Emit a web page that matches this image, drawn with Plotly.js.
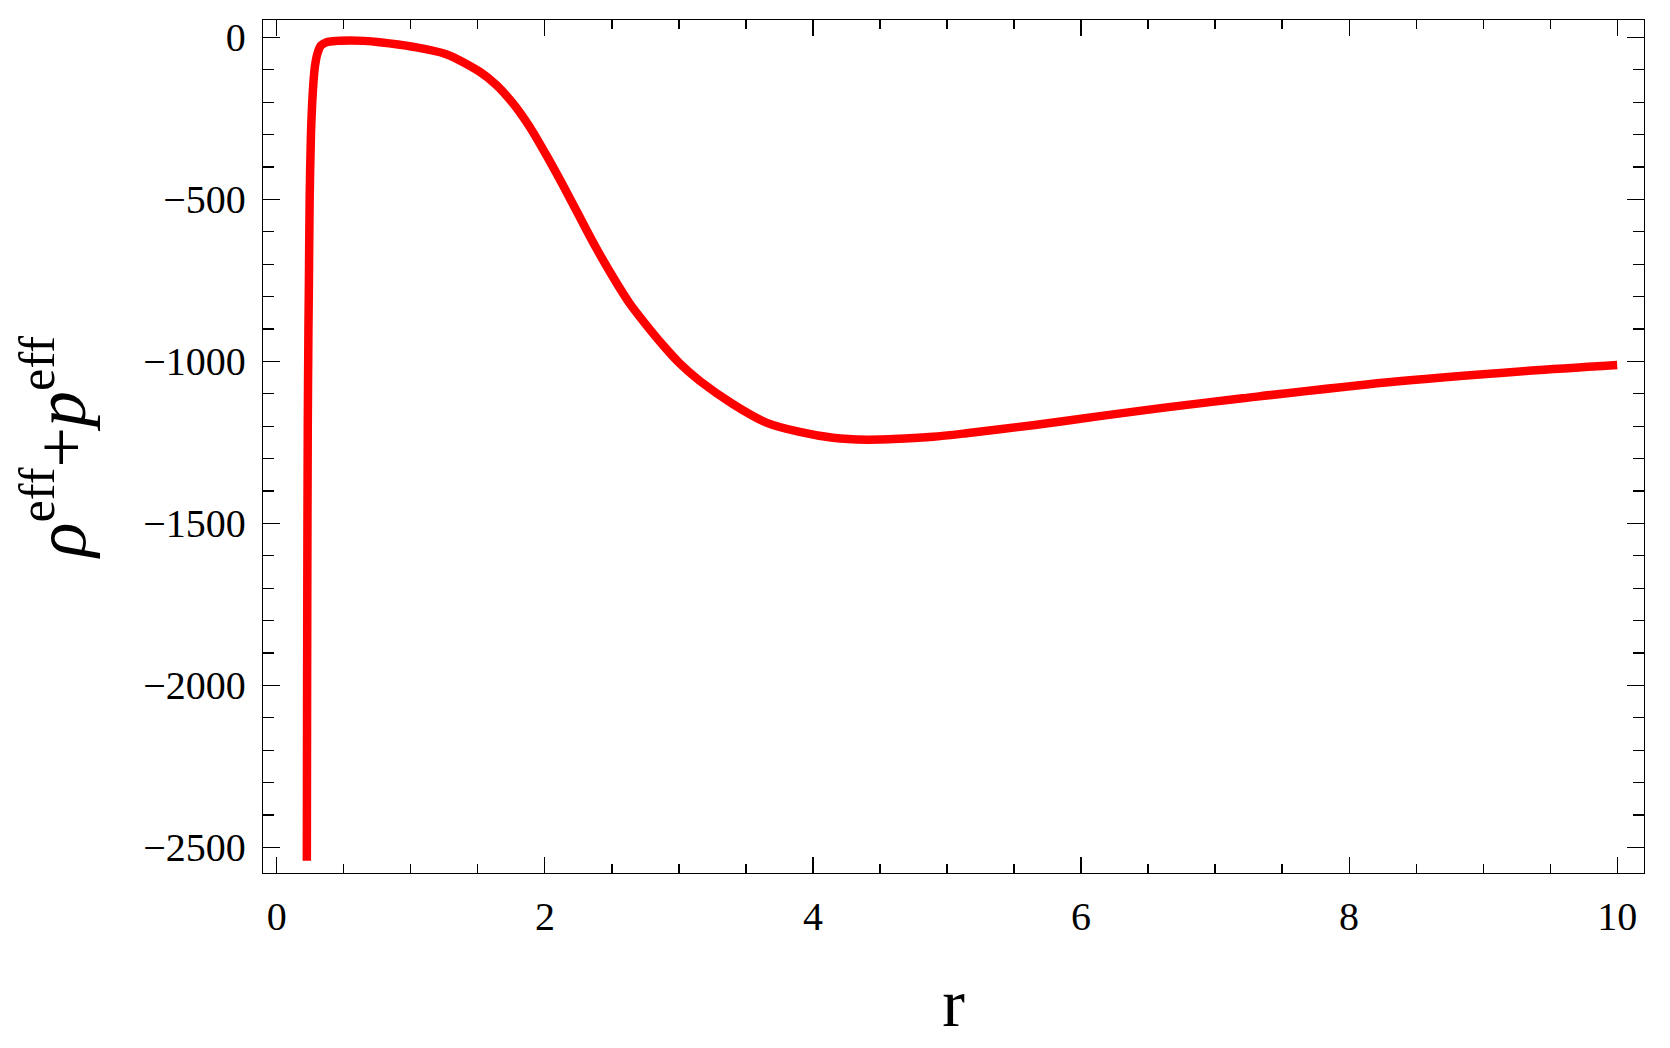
<!DOCTYPE html>
<html>
<head>
<meta charset="utf-8">
<script src="https://cdn.plot.ly/plotly-3.0.1.min.js"></script>
<style>
  html, body { margin: 0; padding: 0; background: #ffffff; }
  #chart { width: 1670px; height: 1048px; }
</style>
</head>
<body>
<div id="chart"></div>
<script>
// r values
const rValues = [
  0.224, 0.226, 0.228, 0.231, 0.236, 0.239, 0.245, 0.255, 0.268, 0.284,
  0.304, 0.33, 0.37, 0.45, 0.55, 0.65, 0.766, 1.015, 1.264, 1.513,
  1.637, 1.762, 1.886, 2.010, 2.134, 2.259, 2.384, 2.507, 2.632, 2.757,
  2.881, 3.005, 3.154, 3.403, 3.652, 3.901, 4.149, 4.398, 4.647, 4.896,
  5.145, 5.642, 6.14, 6.637, 7.206, 8.272, 9.338, 10.0
];
// rho_eff + p_eff values
const sumValues = [
  -2541, -2000, -1600, -1200, -900, -780, -502, -296, -173, -91,
  -49, -25, -15, -11, -10, -11, -15, -29, -52, -106,
  -147, -204, -276, -363, -456, -554, -651, -739, -821, -888,
  -950, -1006, -1060, -1132, -1189, -1218, -1236, -1242, -1239, -1233,
  -1222, -1197, -1169, -1142, -1114, -1065, -1029, -1011
];
const xTickVals = [0, 2, 4, 6, 8, 10];
const yTickVals = [-2500, -2000, -1500, -1000, -500, 0];

const fontFam = '"Liberation Serif", "Times New Roman", Times, serif';

const trace = {
  x: rValues,
  y: sumValues,
  type: 'scatter',
  mode: 'lines',
  line: { color: '#ff0000', width: 8.5, shape: 'spline', smoothing: 0.8 },
  hoverinfo: 'skip',
  showlegend: false
};

const layout = {
  width: 1670,
  height: 1048,
  paper_bgcolor: '#ffffff',
  plot_bgcolor: '#ffffff',
  margin: { l: 263, r: 26, t: 20, b: 175 },
  font: { family: fontFam, color: '#000000', size: 40 },
  xaxis: {
    range: [-0.103, 10.2],
    tickvals: xTickVals,
    ticktext: xTickVals.map(String),
    ticks: 'inside',
    ticklen: 16,
    tickwidth: 1.2,
    tickcolor: '#000',
    minor: { dtick: 0.5, tick0: 0, ticks: 'inside', ticklen: 9, tickwidth: 1.2, tickcolor: '#000', showgrid: false },
    showline: true,
    linecolor: '#000',
    linewidth: 1.2,
    mirror: 'allticks',
    showgrid: false,
    zeroline: false,
    tickfont: { family: fontFam, size: 40, color: '#000' },
    ticklabelstandoff: 8,
    title: { text: 'r', font: { family: fontFam, size: 68, color: '#000' }, standoff: 40 }
  },
  yaxis: {
    range: [-2579, 53.4],
    tickvals: yTickVals,
    ticktext: yTickVals.map(v => v < 0 ? '\u2212' + Math.abs(v) : String(v)),
    ticks: 'inside',
    ticklen: 17,
    tickwidth: 1.2,
    tickcolor: '#000',
    minor: { dtick: 100, tick0: 0, ticks: 'inside', ticklen: 11, tickwidth: 1.2, tickcolor: '#000', showgrid: false },
    showline: true,
    linecolor: '#000',
    linewidth: 1.2,
    mirror: 'allticks',
    showgrid: false,
    zeroline: false,
    tickfont: { family: fontFam, size: 40, color: '#000' },
    ticklabelstandoff: 8,
    title: { text: '<i>ρ</i><sup>eff</sup>+<i>p</i><sup>eff</sup>', font: { family: fontFam, size: 72, color: '#000' }, standoff: 34 }
  }
};

Plotly.newPlot('chart', [trace], layout, { staticPlot: true, displayModeBar: false });
</script>
</body>
</html>
